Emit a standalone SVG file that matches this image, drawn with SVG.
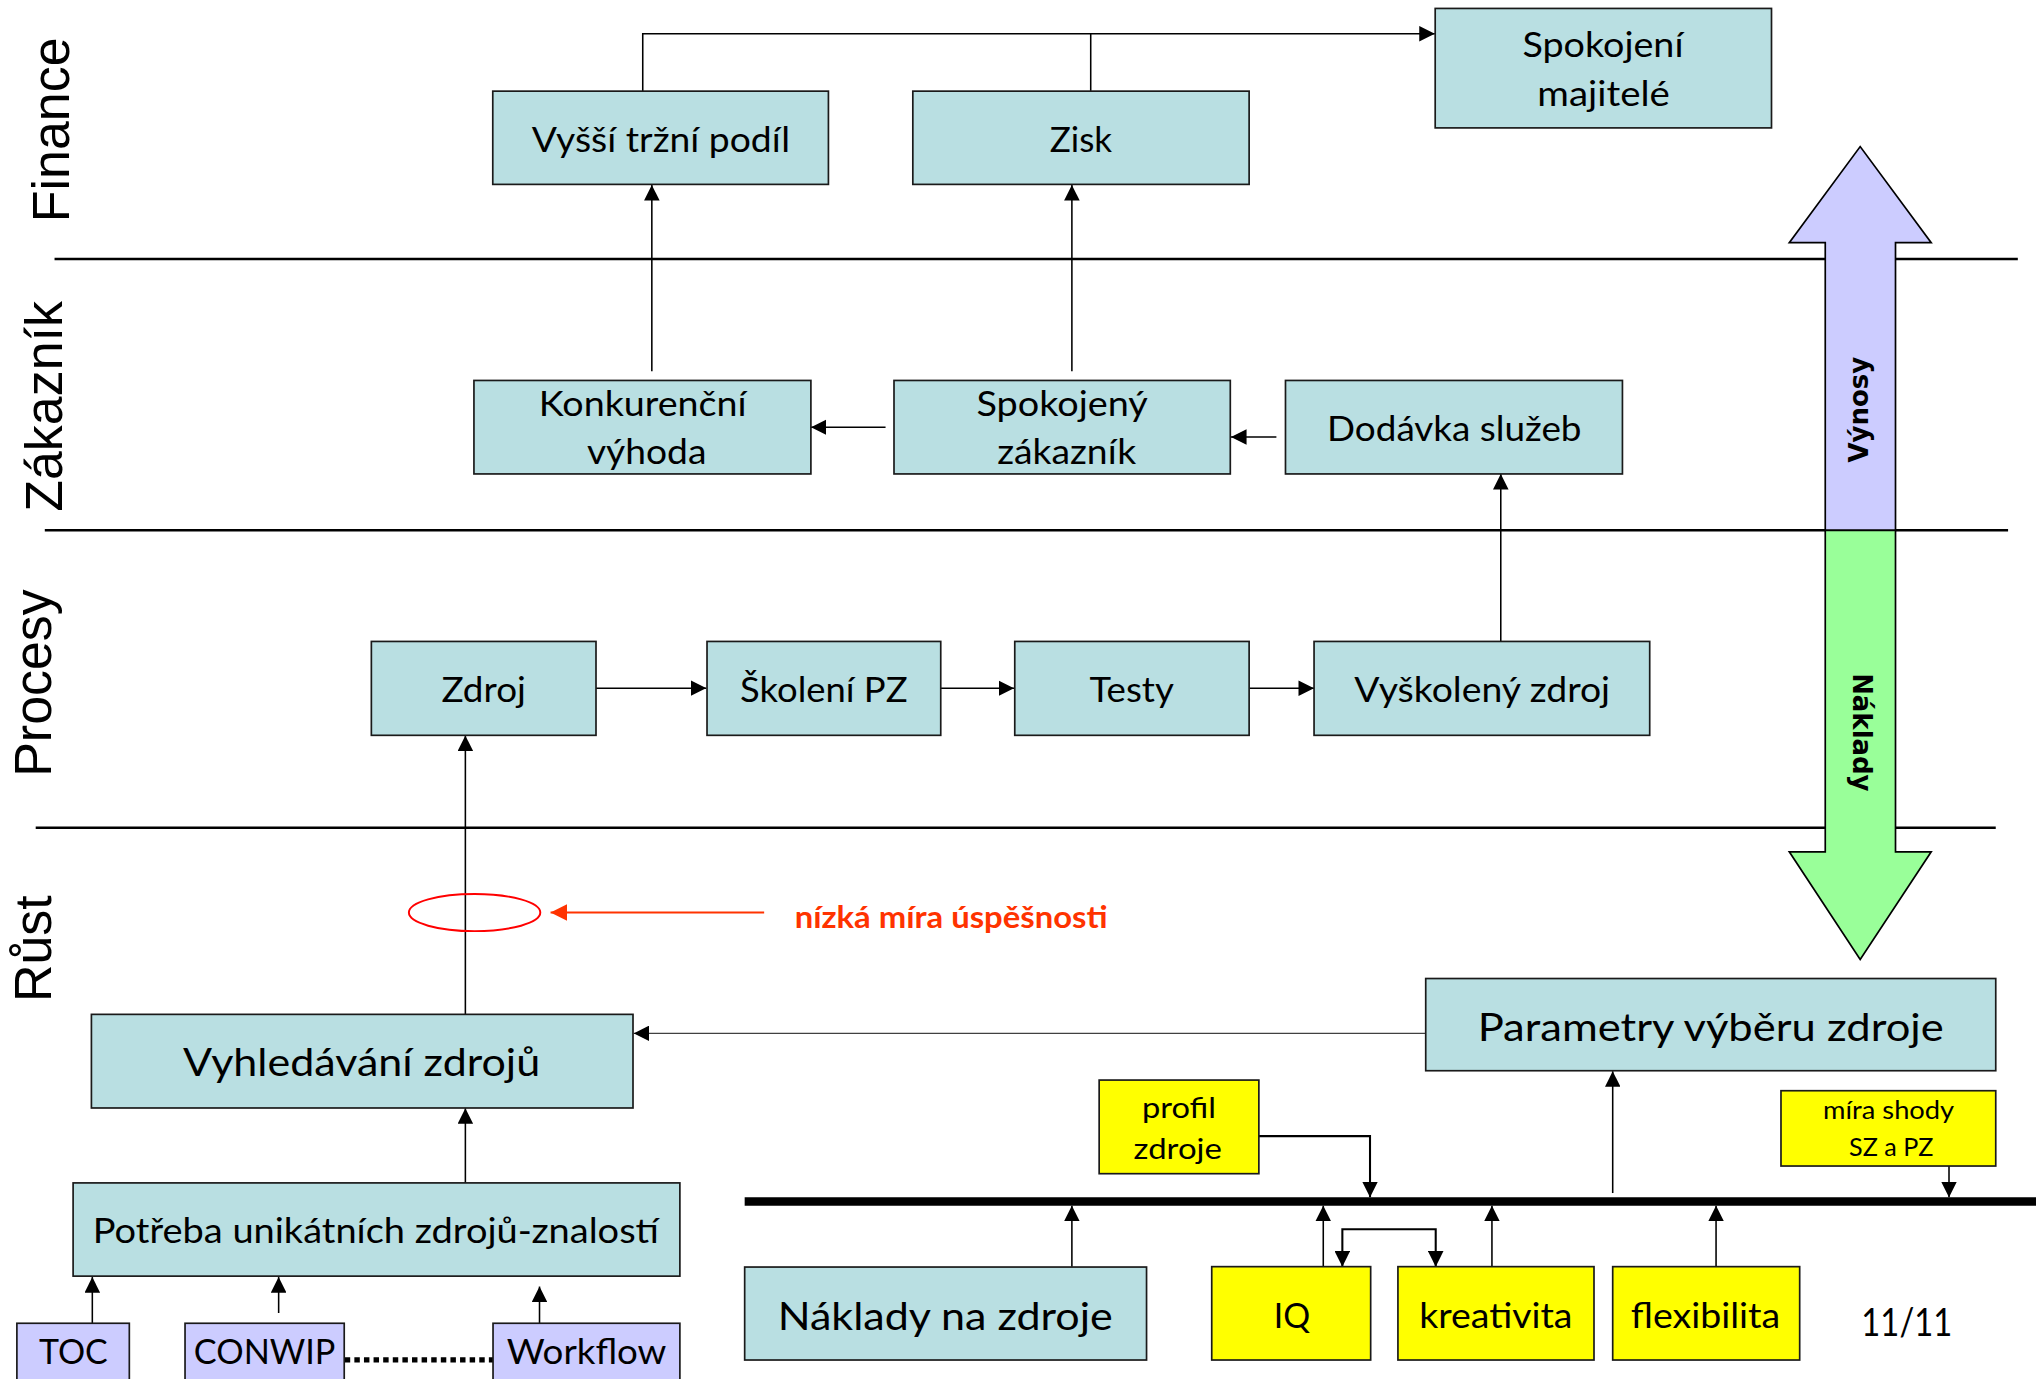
<svg xmlns="http://www.w3.org/2000/svg" width="2036" height="1379" viewBox="0 0 2036 1379">
<style>
.box{fill:#B9DFE2;stroke:#1a1a1a;stroke-width:1.3}
.yel{fill:#FFFF00;stroke:#1a1a1a;stroke-width:1.3}
.pur{fill:#CCCCFF;stroke:#1a1a1a;stroke-width:1.3}
.t{font-family:Lato,"Open Sans","DejaVu Sans",sans-serif;font-size:26.8px;fill:#000;text-anchor:middle}
.big{font-size:29.8px}
.sm{font-size:23px}
.xs{font-size:19px}
.lane{font-family:"Liberation Sans",Arial,sans-serif;font-size:40px;fill:#000;text-anchor:middle}
.arrtxt{font-family:"DejaVu Sans",Verdana,sans-serif;font-weight:bold;font-size:20px;fill:#000;text-anchor:middle}
.c{stroke:#000;stroke-width:1.2;fill:none}
.ln{stroke:#000;stroke-width:2;fill:none}
</style>
<defs>
<marker id="a" markerUnits="userSpaceOnUse" viewBox="0 0 12 12" markerWidth="12" markerHeight="12" refX="12" refY="6" orient="auto-start-reverse">
<path d="M0,0 L12,6 L0,12 z" fill="#000"/>
</marker>
<marker id="ar" markerUnits="userSpaceOnUse" viewBox="0 0 12 12" markerWidth="13" markerHeight="13" refX="12" refY="6" orient="auto">
<path d="M0,0 L12,6 L0,12 z" fill="#FF3300"/>
</marker>
</defs>
<rect width="2036" height="1379" fill="#fff"/>
<g transform="scale(1.29847)">
<g id="lanes">
<line class="ln" x1="42" y1="199.5" x2="1554" y2="199.5"/>
<line class="ln" x1="34.5" y1="408.4" x2="1546.5" y2="408.4"/>
<line class="ln" x1="27.5" y1="637.5" x2="1537" y2="637.5"/>
<text class="lane" transform="translate(53.4,100) rotate(-90)">Finance</text>
<text class="lane" transform="translate(47.8,313) rotate(-90)">Zákazník</text>
<text class="lane" transform="translate(39.5,526) rotate(-90)">Procesy</text>
<text class="lane" transform="translate(39.5,730.6) rotate(-90)">Růst</text>
</g>
<g id="bigarrow">
<polygon points="1405.7,408.4 1405.7,186.9 1378,186.9 1432.6,112.9 1487.3,186.9 1459.8,186.9 1459.8,408.4" fill="#CCCCFF" stroke="#000" stroke-width="1.3"/>
<polygon points="1405.7,408.4 1405.7,656 1378,656 1432.6,739 1487.3,656 1459.8,656 1459.8,408.4" fill="#99FF99" stroke="#000" stroke-width="1.3"/>
<text class="arrtxt" transform="translate(1438.5,315.5) rotate(-90)">Výnosy</text>
<text class="arrtxt" transform="translate(1426.8,564) rotate(90)">Náklady</text>
</g>
<g id="connectors">
<path class="c" d="M495,70 V26 H1105" marker-end="url(#a)"/>
<line class="c" x1="840" y1="70" x2="840" y2="26"/>
<line class="c" x1="502" y1="286" x2="502" y2="142.5" marker-end="url(#a)"/>
<line class="c" x1="825.5" y1="286" x2="825.5" y2="142.5" marker-end="url(#a)"/>
<line class="c" x1="682" y1="329" x2="624.5" y2="329" marker-end="url(#a)"/>
<line class="c" x1="983" y1="336.5" x2="948" y2="336.5" marker-end="url(#a)"/>
<line class="c" x1="1155.8" y1="494" x2="1155.8" y2="365" marker-end="url(#a)"/>
<line class="c" x1="459" y1="530" x2="544" y2="530" marker-end="url(#a)"/>
<line class="c" x1="724" y1="530" x2="781" y2="530" marker-end="url(#a)"/>
<line class="c" x1="962" y1="530" x2="1012" y2="530" marker-end="url(#a)"/>
<line class="c" x1="358.4" y1="781" x2="358.4" y2="566.5" marker-end="url(#a)"/>
<line class="c" x1="358.4" y1="911" x2="358.4" y2="853.5" marker-end="url(#a)"/>
<line x1="1098" y1="795.8" x2="488" y2="795.8" stroke="#404040" stroke-width="1" marker-end="url(#a)"/>
<line class="c" x1="71.1" y1="1019" x2="71.1" y2="983.5" marker-end="url(#a)"/>
<line class="c" x1="214.6" y1="1011.2" x2="214.6" y2="983.5" marker-end="url(#a)"/>
<line class="c" x1="415.5" y1="1019" x2="415.5" y2="990.8" marker-end="url(#a)"/>
<line x1="265.5" y1="1047.3" x2="379.7" y2="1047.3" stroke="#000" stroke-width="4.2" stroke-dasharray="4.2 3.2"/>
<ellipse cx="365.5" cy="702.8" rx="50.6" ry="14.3" fill="none" stroke="#FF0000" stroke-width="1.5"/>
<line x1="588.5" y1="702.7" x2="424" y2="702.7" stroke="#FF3300" stroke-width="1.5" marker-end="url(#ar)"/>
<line x1="573.5" y1="925.3" x2="1570" y2="925.3" stroke="#000" stroke-width="6.4"/>
<line class="c" x1="825.5" y1="975.5" x2="825.5" y2="928.5" marker-end="url(#a)"/>
<line class="c" x1="1019.1" y1="975.5" x2="1019.1" y2="928.5" marker-end="url(#a)"/>
<line class="c" x1="1149" y1="975.5" x2="1149" y2="928.5" marker-end="url(#a)"/>
<line class="c" x1="1321.6" y1="975.5" x2="1321.6" y2="928.5" marker-end="url(#a)"/>
<path d="M1033.8,975.5 V946.7 H1105.7 V975.5" fill="none" stroke="#000" stroke-width="1.6" marker-start="url(#a)" marker-end="url(#a)"/>
<path d="M969.5,875 H1055.1 V922.1" fill="none" stroke="#000" stroke-width="1.6" marker-end="url(#a)"/>
<line class="c" x1="1242" y1="918.8" x2="1242" y2="825" marker-end="url(#a)"/>
<line class="c" x1="1501" y1="898" x2="1501" y2="922.1" marker-end="url(#a)"/>
</g>
<g id="n-vyssi"><rect class="box" x="379.5" y="70.2" width="258.5" height="71.8"/><text class="t" x="509" y="117" textLength="199" lengthAdjust="spacingAndGlyphs">Vyšší tržní podíl</text></g>
<g id="n-zisk"><rect class="box" x="703" y="70.2" width="259" height="71.8"/><text class="t" x="832.5" y="117" textLength="48" lengthAdjust="spacingAndGlyphs">Zisk</text></g>
<g id="n-majitele"><rect class="box" x="1105.3" y="6.5" width="259" height="92"/><text class="t" x="1234.5" y="44.2" textLength="124" lengthAdjust="spacingAndGlyphs">Spokojení</text><text class="t" x="1235" y="81.3" textLength="102" lengthAdjust="spacingAndGlyphs">majitelé</text></g>
<g id="n-konkurencni"><rect class="box" x="365" y="293" width="259.5" height="72"/><text class="t" x="495" y="320.6" textLength="160" lengthAdjust="spacingAndGlyphs">Konkurenční</text><text class="t" x="498" y="357.4" textLength="92" lengthAdjust="spacingAndGlyphs">výhoda</text></g>
<g id="n-spokojeny"><rect class="box" x="688.5" y="293" width="259" height="72"/><text class="t" x="818" y="320.6" textLength="132" lengthAdjust="spacingAndGlyphs">Spokojený</text><text class="t" x="821.5" y="357.4" textLength="107" lengthAdjust="spacingAndGlyphs">zákazník</text></g>
<g id="n-dodavka"><rect class="box" x="990" y="293" width="259.5" height="72"/><text class="t" x="1120" y="339.5" textLength="196" lengthAdjust="spacingAndGlyphs">Dodávka služeb</text></g>
<g id="n-zdroj"><rect class="box" x="286" y="494" width="173" height="72.3"/><text class="t" x="372.5" y="541" textLength="65" lengthAdjust="spacingAndGlyphs">Zdroj</text></g>
<g id="n-skoleni"><rect class="box" x="544.5" y="494" width="180" height="72.3"/><text class="t" x="634.5" y="541" textLength="129" lengthAdjust="spacingAndGlyphs">Školení PZ</text></g>
<g id="n-testy"><rect class="box" x="781.5" y="494" width="180.5" height="72.3"/><text class="t" x="871.5" y="541" textLength="65" lengthAdjust="spacingAndGlyphs">Testy</text></g>
<g id="n-vyskoleny"><rect class="box" x="1012" y="494" width="258.5" height="72.3"/><text class="t" x="1141.5" y="541" textLength="197" lengthAdjust="spacingAndGlyphs">Vyškolený zdroj</text></g>
<g id="n-vyhledavani"><rect class="box" x="70.4" y="781.2" width="417.1" height="72.1"/><text class="t big" x="278.5" y="828.6" textLength="275" lengthAdjust="spacingAndGlyphs">Vyhledávání zdrojů</text></g>
<g id="n-parametry"><rect class="box" x="1098" y="753.6" width="439" height="71"/><text class="t big" x="1317.5" y="801.8" textLength="359" lengthAdjust="spacingAndGlyphs">Parametry výběru zdroje</text></g>
<g id="n-potreba"><rect class="box" x="56.3" y="911" width="467.3" height="71.8"/><text class="t" x="289.5" y="957.2" textLength="436" lengthAdjust="spacingAndGlyphs">Potřeba unikátních zdrojů-znalostí</text></g>
<g id="n-toc"><rect class="pur" x="13" y="1019.1" width="86.6" height="48"/><text class="t" x="56.5" y="1050.7" textLength="53" lengthAdjust="spacingAndGlyphs">TOC</text></g>
<g id="n-conwip"><rect class="pur" x="142.5" y="1019.1" width="122.6" height="48"/><text class="t" x="203.8" y="1050.7" textLength="109" lengthAdjust="spacingAndGlyphs">CONWIP</text></g>
<g id="n-workflow"><rect class="pur" x="379.7" y="1019.1" width="143.9" height="48"/><text class="t" x="451.7" y="1050.7" textLength="123" lengthAdjust="spacingAndGlyphs">Workflow</text></g>
<g id="n-naklady"><rect class="box" x="573.5" y="975.8" width="309.5" height="71.6"/><text class="t big" x="728" y="1024" textLength="258" lengthAdjust="spacingAndGlyphs">Náklady na zdroje</text></g>
<g id="n-iq"><rect class="yel" x="933.2" y="975.5" width="122.4" height="71.9"/><text class="t" x="995" y="1022.5" textLength="28" lengthAdjust="spacingAndGlyphs">IQ</text></g>
<g id="n-kreativita"><rect class="yel" x="1076.6" y="975.5" width="151" height="71.9"/><text class="t" x="1152" y="1022.5" textLength="118" lengthAdjust="spacingAndGlyphs">kreativita</text></g>
<g id="n-flexibilita"><rect class="yel" x="1242" y="975.5" width="144" height="71.9"/><text class="t" x="1313.5" y="1022.5" textLength="115" lengthAdjust="spacingAndGlyphs">flexibilita</text></g>
<g id="n-profil"><rect class="yel" x="846.5" y="831.8" width="123" height="72.1"/><text class="t sm" x="908" y="860.8" textLength="57" lengthAdjust="spacingAndGlyphs">profil</text><text class="t sm" x="907" y="892.8" textLength="68" lengthAdjust="spacingAndGlyphs">zdroje</text></g>
<g id="n-mira"><rect class="yel" x="1371.6" y="840" width="165.4" height="58"/><text class="t xs" x="1454.5" y="862" textLength="101" lengthAdjust="spacingAndGlyphs">míra shody</text><text class="t xs" x="1456.5" y="890.5" textLength="65" lengthAdjust="spacingAndGlyphs">SZ a PZ</text></g>
<g id="labels">
<text class="t" x="612" y="714.6" style="text-anchor:start;font-weight:bold;font-size:23px;fill:#FF3300" textLength="241" lengthAdjust="spacingAndGlyphs">nízká míra úspěšnosti</text>
<text class="t" x="1468.5" y="1028.8" style="font-size:30px" textLength="70" lengthAdjust="spacingAndGlyphs">11/11</text>
</g>
</g>
</svg>
